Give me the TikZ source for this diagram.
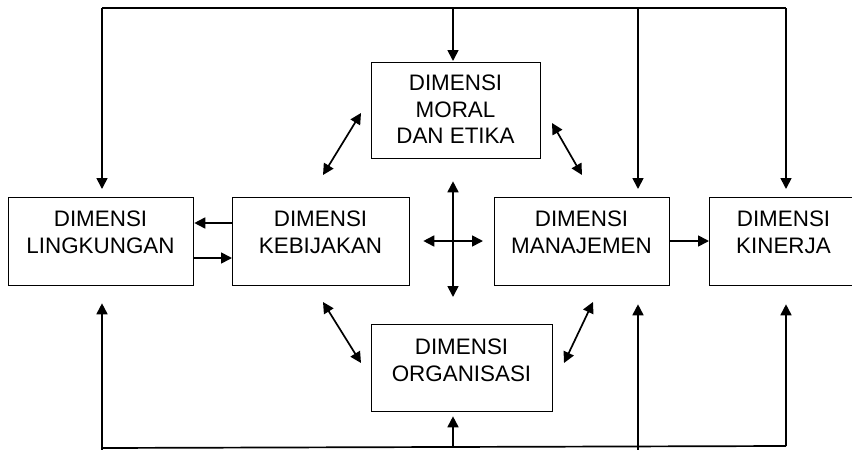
\documentclass[tikz,border=0pt]{standalone}
\usepackage{fontspec}
\setmainfont{Liberation Sans}
\usetikzlibrary{arrows.meta}
\begin{document}
\begin{tikzpicture}[x=1pt,y=-1pt,
  boxnode/.style={draw, line width=1.3pt, inner sep=0pt, anchor=north west},
  txt/.style={align=center, inner sep=0pt, anchor=north, font=\fontsize{22.4}{26.5}\selectfont},
  ln/.style={line width=1.7pt},
  arr/.style={ln, -{Triangle[width=11pt,length=11pt]}},
  arrb/.style={ln, {Triangle[width=11pt,length=11pt]}-{Triangle[width=11pt,length=11pt]}}]
\useasboundingbox (0,0) rectangle (852,450);
% boxes
\node[boxnode, minimum width=185pt, minimum height=88pt] (ling) at (8,197) {};
\node[boxnode, minimum width=177pt, minimum height=88pt] (kebij) at (232,197) {};
\node[boxnode, minimum width=175pt, minimum height=88pt] (manaj) at (494,197) {};
\node[boxnode, minimum width=149pt, minimum height=88pt] (kiner) at (709,197) {};
\node[boxnode, minimum width=169pt, minimum height=96pt] (moral) at (371,62) {};
\node[boxnode, minimum width=181pt, minimum height=87pt] (organ) at (371,324) {};
% texts
\node[txt] (tling) at (100.5,211) {DIMENSI\\LINGKUNGAN};
\node[txt] (tkebij) at (320.5,211) {DIMENSI\\KEBIJAKAN};
\node[txt] (tmanaj) at (581.5,211) {DIMENSI\\MANAJEMEN};
\node[txt] (tkiner) at (783.5,211) {DIMENSI\\KINERJA};
\node[txt] (tmoral) at (455.5,75) {DIMENSI\\MORAL\\DAN ETIKA};
\node[txt] (torgan) at (461.5,339) {DIMENSI\\ORGANISASI};
% top feedback line
\coordinate (tL) at (102,8);
\coordinate (tM) at (453,8);
\coordinate (tJ) at (638,8);
\coordinate (tK) at (786,8);
\draw[ln] (tL) -- (tK);
\draw[arr, shorten >=8pt] (tL) -- (tL |- ling.north);
\draw[arr, shorten >=1pt] (tM) -- (tM |- moral.north);
\draw[arr, shorten >=8pt] (tJ) -- (tJ |- manaj.north);
\draw[arr, shorten >=8pt] (tK) -- (tK |- kiner.north);
% bottom feedback line
\coordinate (bL) at (102,448);
\coordinate (bO) at (453,447);
\coordinate (bJ) at (638,450);
\coordinate (bK) at (786,446);
\coordinate (bL0) at (102,450);
\draw[ln] (bL) -- (bK);
\draw[arr, shorten >=17pt] (bL0) -- (bL0 |- ling.south);
\draw[arr, shorten >=4pt] (bO) -- (bO |- organ.south);
\draw[arr, shorten >=18pt] (bJ) -- (bJ |- manaj.south);
\draw[arr, shorten >=18pt] (bK) -- (bK |- kiner.south);
% horizontal links
\coordinate (h1) at (0,223);
\coordinate (h2) at (0,258);
\coordinate (h3) at (0,241);
\draw[arr] (kebij.west |- h1) -- (ling.east |- h1);
\draw[arr] (ling.east |- h2) -- (kebij.west |- h2);
\draw[arr] (manaj.east |- h3) -- (kiner.west |- h3);
% central cross
\coordinate (cx) at (453,0);
\draw[arrb, shorten <=13pt, shorten >=11pt] (kebij.east |- h3) -- (manaj.west |- h3);
\draw[arrb, shorten <=22pt, shorten >=27pt] (cx |- moral.south) -- (cx |- organ.north);
% diagonal links
\coordinate (d1a) at (361,113);
\coordinate (d1b) at (323,175);
\coordinate (d2a) at (552,123);
\coordinate (d2b) at (582,175);
\coordinate (d3a) at (323,302);
\coordinate (d3b) at (361,363);
\coordinate (d4a) at (564,363);
\coordinate (d4b) at (593,302);
\draw[arrb] (d1a) -- (d1b);
\draw[arrb] (d2a) -- (d2b);
\draw[arrb] (d3a) -- (d3b);
\draw[arrb] (d4a) -- (d4b);
\end{tikzpicture}
\end{document}
